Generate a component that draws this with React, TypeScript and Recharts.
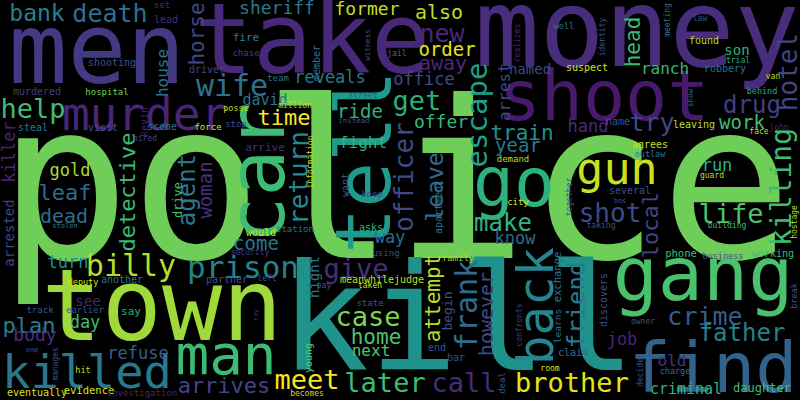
import React from 'react';
import { ScatterChart, Scatter, XAxis, YAxis } from 'recharts';

// [word, x, y, weight, vertical (1 = reads bottom-up), colour]
// horizontal words: x = centre, y = baseline; vertical words: x = baseline, y = centre
type Word = [string, number, number, number, number, string];

const headlineWords: Word[] = [
  ['police', 395, 258, 220, 0, '#6ece58'],
  ['kill', 458, 370, 148, 0, '#20928c'],
  ['town', 162, 340, 100, 0, '#9fda3a'],
  ['men', 97, 83, 98, 0, '#443983'],
  ['take', 312, 73, 98, 0, '#482878'],
  ['money', 637, 66, 108, 0, '#472d7b'],
  ['shoot', 604, 120, 70, 0, '#481a6c'],
  ['gang', 703, 300, 75, 0, '#4ac16d'],
  ['find', 713, 392, 70, 0, '#33638d'],
  ['tell', 390, 162, 76, 1, '#1e9b8a'],
  ['car', 284, 173, 78, 1, '#3fbc73'],
];

const largeWords: Word[] = [
  ['man', 226, 374, 56, 0, '#3bbb75'],
  ['murder', 145, 130, 46, 0, '#482677'],
  ['killed', 87, 388, 47, 0, '#2a788e'],
  ['gun', 617, 184, 45, 0, '#cae11f'],
  ['go', 514, 206, 68, 0, '#2db27d'],
  ['back', 553, 306, 49, 1, '#25858e'],
  ['billy', 131, 276, 30, 0, '#b5de2b'],
  ['prison', 243, 278, 31, 0, '#25838e'],
  ['brother', 572, 392, 27, 0, '#e2e418'],
  ['meet', 307, 389, 27, 0, '#f8e621'],
  ['later', 385, 392, 27, 0, '#3dbc74'],
  ['call', 464, 392, 27, 0, '#472c7a'],
  ['wife', 232, 96, 30, 0, '#2c728e'],
  ['help', 33, 118, 27, 0, '#40bd72'],
  ['time', 284, 125, 22, 0, '#fde725'],
  ['detective', 135, 192, 22, 1, '#3aba76'],
  ['return', 308, 178, 26, 1, '#23898e'],
  ['officer', 413, 177, 26, 1, '#3e4a89'],
  ['escape', 487, 115, 29, 1, '#1f9f88'],
  ['frank', 477, 305, 30, 1, '#306a8e'],
  ['however', 493, 314, 20, 1, '#3f4889'],
  ['attempt', 440, 298, 21, 1, '#b8de29'],
  ['killing', 791, 187, 28, 1, '#3fbc73'],
  ['agent', 195, 190, 24, 1, '#2a788e'],
  ['woman', 212, 190, 19, 1, '#472f7d'],
  ['leave', 443, 187, 23, 1, '#31688e'],
  ['local', 658, 225, 22, 1, '#404688'],
  ['friend', 585, 305, 24, 1, '#2a788e'],
  ['hotel', 797, 72, 26, 1, '#414487'],
  ['head', 640, 42, 21, 1, '#3aba76'],
  ['horse', 204, 34, 21, 1, '#3f4788'],
];

const mediumWords: Word[] = [
  ['house', 168, 73, 16, 1, '#2c718e'],
  ['killer', 15, 152, 17, 1, '#482475'],
  ['arrested', 14, 233, 14, 1, '#414487'],
  ['arrest', 510, 92, 16, 1, '#3e4a89'],
  ['night', 319, 277, 14, 1, '#2a788e'],
  ['begin', 452, 311, 13, 1, '#3b528b'],
  ['drive', 182, 200, 12, 1, '#4ac16d'],
  ['case', 368, 326, 27, 0, '#7fd34e'],
  ['home', 376, 344, 21, 0, '#4cc26c'],
  ['next', 371, 356, 16, 0, '#52c569'],
  ['crime', 705, 325, 25, 0, '#365d8d'],
  ['father', 742, 341, 24, 0, '#26828e'],
  ['life', 731, 223, 27, 0, '#4ec36b'],
  ['shot', 610, 222, 26, 0, '#3e4a89'],
  ['drug', 752, 113, 24, 0, '#433e85'],
  ['try', 652, 131, 25, 0, '#3f4889'],
  ['work', 742, 129, 19, 0, '#40bd72'],
  ['hand', 588, 132, 17, 0, '#472c7a'],
  ['ranch', 665, 74, 16, 0, '#35b779'],
  ['run', 717, 171, 17, 0, '#2ab07f'],
  ['son', 737, 55, 14, 0, '#2db27d'],
  ['named', 530, 74, 14, 0, '#3e4a89'],
  ['train', 522, 140, 21, 0, '#20928c'],
  ['year', 518, 152, 19, 0, '#2a788e'],
  ['make', 503, 231, 24, 0, '#31b57b'],
  ['know', 515, 244, 17, 0, '#306a8e'],
  ['get', 417, 110, 27, 0, '#2ab07f'],
  ['offer', 441, 128, 18, 0, '#35b779'],
  ['ride', 360, 118, 19, 0, '#2fb47c'],
  ['office', 424, 85, 17, 0, '#3e4a89'],
  ['reveals', 330, 83, 17, 0, '#29798e'],
  ['new', 442, 42, 25, 0, '#482878'],
  ['order', 447, 56, 19, 0, '#e5e419'],
  ['away', 443, 70, 20, 0, '#482878'],
  ['also', 439, 19, 20, 0, '#bddf26'],
  ['former', 367, 15, 18, 0, '#c2df23'],
  ['sheriff', 277, 14, 18, 0, '#2a788e'],
  ['bank', 37, 21, 23, 0, '#277f8e'],
  ['death', 110, 22, 25, 0, '#2c718e'],
  ['david', 265, 105, 15, 0, '#2c728e'],
  ['fight', 363, 148, 16, 0, '#2fb47c'],
  ['gold', 70, 176, 17, 0, '#a8db34'],
  ['leaf', 65, 200, 22, 0, '#2f6b8e'],
  ['dead', 64, 223, 20, 0, '#2f6b8e'],
  ['come', 256, 250, 19, 0, '#2a788e'],
  ['turn', 68, 268, 17, 0, '#21908d'],
  ['way', 390, 243, 17, 0, '#306a8e'],
  ['give', 356, 278, 27, 0, '#472e7c'],
  ['plan', 29, 333, 22, 0, '#287c8e'],
  ['day', 85, 328, 17, 0, '#3fbc73'],
  ['body', 35, 341, 18, 0, '#46307e'],
  ['see', 88, 306, 14, 0, '#482173'],
  ['refuse', 138, 359, 17, 0, '#355f8d'],
  ['arrives', 224, 393, 22, 0, '#414487'],
  ['old', 672, 366, 16, 0, '#46337e'],
  ['job', 622, 345, 17, 0, '#482475'],
  ['criminal', 686, 394, 15, 0, '#2eb37c'],
  ['daughter', 762, 392, 12, 0, '#40bd72'],
];

const smallWords: Word[] = [
  ['set', 162, 8, 9, 0, '#482576'],
  ['lead', 166, 23, 10, 0, '#472d7b'],
  ['shooting', 112, 66, 10, 0, '#39568c'],
  ['fire', 246, 41, 11, 0, '#26828e'],
  ['chase', 246, 56, 9, 0, '#433e85'],
  ['driver', 207, 73, 10, 0, '#3f4788'],
  ['murdered', 37, 95, 10, 0, '#433e85'],
  ['hospital', 107, 95, 9, 0, '#7ad151'],
  ['posse', 236, 111, 8.5, 0, '#bddf26'],
  ['steal', 33, 131, 10, 0, '#2a788e'],
  ['visit', 103, 131, 10, 0, '#3b528b'],
  ['kevin', 148, 122, 10, 1, '#482475'],
  ['scene', 162, 130, 10, 0, '#2c728e'],
  ['force', 208, 130, 9, 0, '#d8e219'],
  ['stop', 236, 127, 9, 0, '#3b528b'],
  ['hired', 145, 141, 8, 0, '#414487'],
  ['arrive', 265, 151, 11, 0, '#46307e'],
  ['stolen', 65, 228, 7, 0, '#2a788e'],
  ['would', 261, 236, 10, 0, '#d8e219'],
  ['security', 250, 255, 8, 0, '#433e85'],
  ['information', 313, 162, 8, 1, '#c2df23'],
  ['want', 349, 185, 10, 1, '#3b528b'],
  ['keep', 372, 197, 9, 0, '#3b528b'],
  ['apartment', 442, 207, 10, 1, '#2c728e'],
  ['station', 295, 232, 9, 0, '#2c728e'],
  ['asks', 371, 231, 10, 0, '#2ab07f'],
  ['using', 386, 256, 9, 0, '#3b528b'],
  ['family', 458, 261, 9, 0, '#a0da39'],
  ['demand', 513, 162, 9, 0, '#bddf26'],
  ['city', 518, 205, 9, 0, '#d8e219'],
  ['meanwhile', 367, 283, 10, 0, '#bddf26'],
  ['judge', 409, 283, 10, 0, '#bddf26'],
  ['pay', 324, 288, 8, 0, '#3b528b'],
  ['left', 267, 281, 8, 0, '#3b528b'],
  ['taken', 370, 288, 8, 0, '#d8e219'],
  ['state', 370, 306, 9, 0, '#3b528b'],
  ['young', 312, 358, 10, 1, '#58c765'],
  ['end', 437, 351, 10, 0, '#3b528b'],
  ['bar', 456, 361, 10, 0, '#3b528b'],
  ['confronts', 522, 325, 8, 1, '#433e85'],
  ['deal', 505, 383, 9, 1, '#3b528b'],
  ['becomes', 307, 396, 8, 0, '#bddf26'],
  ['deputy', 83, 285, 8.5, 0, '#d8e219'],
  ['another', 122, 283, 10, 0, '#2c728e'],
  ['partner', 227, 283, 10, 0, '#3b528b'],
  ['track', 40, 313, 9, 0, '#3b528b'],
  ['earlier', 85, 313, 9, 0, '#3b528b'],
  ['say', 131, 315, 11, 0, '#2ab07f'],
  ['ray', 258, 315, 7, 1, '#482475'],
  ['one', 32, 352, 7, 0, '#3b528b'],
  ['manages', 58, 364, 8, 1, '#3b528b'],
  ['hit', 83, 373, 8.5, 0, '#bddf26'],
  ['eventually', 37, 396, 10, 0, '#d8e219'],
  ['evidence', 89, 394, 10.5, 0, '#d8e219'],
  ['investigation', 142, 396, 9, 0, '#482475'],
];

const tinyWords: Word[] = [
  ['exchange', 561, 277, 10.5, 1, '#2a788e'],
  ['learns', 561, 326, 9.5, 1, '#2c728e'],
  ['discovers', 607, 300, 10, 1, '#3b528b'],
  ['owner', 643, 324, 8, 0, '#3b528b'],
  ['break', 797, 296, 8.5, 1, '#3b528b'],
  ['claim', 573, 356, 10, 0, '#2c728e'],
  ['decides', 643, 370, 8, 1, '#3b528b'],
  ['room', 550, 371, 8, 0, '#d8e219'],
  ['charge', 675, 374, 8.5, 0, '#2c728e'],
  ['agrees', 650, 148, 10, 0, '#c8e020'],
  ['outlaw', 650, 157, 8.5, 0, '#2c728e'],
  ['guard', 712, 178, 8, 0, '#bddf26'],
  ['several', 630, 194, 10, 0, '#3b528b'],
  ['together', 572, 197, 8, 1, '#3b528b'],
  ['bos', 620, 203, 7, 0, '#3b528b'],
  ['taking', 601, 228, 8, 0, '#3b528b'],
  ['building', 727, 228, 8, 0, '#3fbc73'],
  ['hostage', 797, 222, 8, 1, '#bddf26'],
  ['phone', 681, 257, 10.5, 0, '#3fbc73'],
  ['business', 723, 259, 8.5, 0, '#3b528b'],
  ['working', 773, 257, 10, 0, '#3fbc73'],
  ['well', 564, 29, 8.5, 0, '#2a788e'],
  ['identity', 605, 37, 8, 1, '#3b528b'],
  ['meeting', 670, 20, 8, 1, '#2c728e'],
  ['law', 700, 21, 8, 0, '#3b528b'],
  ['found', 704, 44, 10, 0, '#bddf26'],
  ['trial', 738, 63, 8, 0, '#2ab07f'],
  ['suspect', 587, 71, 10, 0, '#d8e219'],
  ['robbery', 725, 72, 10, 0, '#2c728e'],
  ['van', 773, 79, 8, 0, '#bddf26'],
  ['show', 693, 98, 7.5, 1, '#2c728e'],
  ['behind', 762, 94, 8.5, 0, '#2ab07f'],
  ['name', 618, 125, 10, 0, '#3b528b'],
  ['leaving', 694, 128, 10, 0, '#bddf26'],
  ['john', 779, 130, 8, 0, '#482475'],
  ['face', 759, 134, 8, 0, '#bddf26'],
  ['member', 320, 63, 10, 1, '#2c728e'],
  ['witness', 370, 45, 7.5, 1, '#3b528b'],
  ['jail', 397, 56, 8, 0, '#2c728e'],
  ['realizes', 520, 43, 8, 1, '#482475'],
  ['team', 278, 81, 9, 0, '#2c728e'],
  ['street', 363, 98, 8, 0, '#3b528b'],
  ['million', 295, 108, 8, 0, '#bddf26'],
  ['instead', 354, 123, 7.5, 0, '#3b528b'],
];

const data = [...headlineWords, ...largeWords, ...mediumWords, ...smallWords, ...tinyWords].map(
  ([word, x, y, weight, vertical, color]) => ({ word, x, y, weight, vertical, color })
);

const WordShape = (props: any) => {
  const { cx, cy, payload } = props;
  return (
    <text
      x={cx}
      y={cy}
      textAnchor="middle"
      fontFamily="'DejaVu Sans Mono', monospace"
      fontSize={payload.weight}
      fill={payload.color}
      transform={payload.vertical ? `rotate(-90 ${cx} ${cy})` : undefined}
    >
      {payload.word}
    </text>
  );
};

export default function App() {
  return (
    <div style={{ width: 800, height: 400, background: '#000' }}>
      <style>{'body { margin: 0; }'}</style>
      <ScatterChart width={800} height={400} margin={{ top: 0, right: 0, bottom: 0, left: 0 }}>
        <XAxis type="number" dataKey="x" domain={[0, 800]} hide />
        <YAxis type="number" dataKey="y" domain={[0, 400]} reversed hide />
        <Scatter data={data} shape={WordShape} isAnimationActive={false} />
      </ScatterChart>
    </div>
  );
}
